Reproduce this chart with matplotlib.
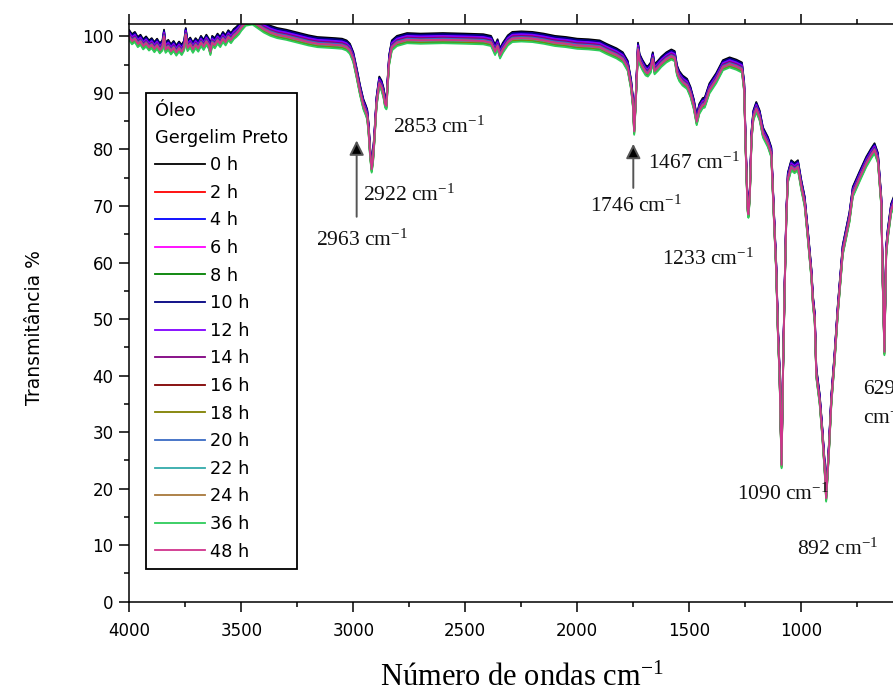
import matplotlib
matplotlib.use('Agg')
import matplotlib.pyplot as plt
from matplotlib.ticker import MultipleLocator
import numpy as np

# ---------------- data ----------------
wavenumber = [
    4000, 3988, 3975, 3962, 3950, 3938, 3925, 3912, 3900, 3888, 3876, 3864, 3852, 3845, 3838,
    3826, 3814, 3802, 3790, 3778, 3766, 3755, 3748, 3740, 3728, 3716, 3704, 3692, 3680, 3668,
    3656, 3645, 3638, 3630, 3618, 3606, 3594, 3582, 3570, 3558, 3546, 3534, 3522, 3510, 3500,
    3480, 3450, 3425, 3400, 3370, 3340, 3300, 3270, 3240, 3200, 3160, 3120, 3080, 3050, 3030,
    3015, 3000, 2985, 2970, 2955, 2945, 2938, 2932, 2925, 2918, 2912, 2906, 2896, 2884, 2874,
    2865, 2858, 2852, 2847, 2840, 2828, 2805, 2760, 2700, 2600, 2500, 2420, 2385, 2367, 2356,
    2345, 2332, 2310, 2290, 2250, 2200, 2150, 2100, 2050, 2000, 1950, 1900, 1870, 1825, 1797,
    1775, 1760, 1752, 1746, 1740, 1735, 1729, 1722, 1710, 1695, 1685, 1672, 1663, 1655, 1640,
    1625, 1602, 1580, 1565, 1555, 1545, 1530, 1510, 1495, 1480, 1467, 1455, 1440, 1431, 1410,
    1380, 1350, 1320, 1290, 1265, 1255, 1248, 1240, 1236, 1230, 1222, 1214, 1201, 1186, 1171,
    1149, 1134, 1123, 1112, 1104, 1097, 1093, 1088, 1082, 1074, 1067, 1060, 1045, 1030, 1015,
    1000, 985, 971, 955, 948, 940, 933, 918, 906, 896, 889, 877, 866, 852, 837,
    815, 785, 770, 740, 710, 688, 673, 658, 643, 636, 629, 621, 614, 599, 580,
    550, 500, 450, 400,
]
transmittance_base = [
    100.2, 99.5, 99.9, 99.0, 99.4, 98.6, 99.1, 98.4, 98.8, 98.1, 98.7, 97.9, 98.4, 100.3, 98.0,
    98.5, 97.7, 98.3, 97.5, 98.2, 97.6, 98.4, 100.6, 98.3, 98.9, 98.0, 98.8, 98.2, 99.2, 98.5,
    99.4, 98.7, 97.6, 99.2, 98.8, 99.6, 99.0, 99.9, 99.3, 100.2, 99.7, 100.4, 100.8, 101.3, 101.9,
    102.8, 103.0, 102.3, 101.6, 101.0, 100.6, 100.3, 100.0, 99.7, 99.3, 99.0, 98.9, 98.8, 98.7, 98.4,
    97.8, 96.3, 93.5, 90.5, 88.0, 87.0, 86.2, 83.8, 79.5, 76.8, 78.5, 82.0, 88.5, 92.0, 91.3,
    90.0, 88.3, 88.0, 91.5, 95.8, 98.4, 99.2, 99.7, 99.6, 99.7, 99.6, 99.5, 99.2, 97.6, 98.6,
    97.0, 98.0, 99.3, 99.9, 100.0, 99.9, 99.6, 99.2, 99.0, 98.7, 98.6, 98.4, 97.8, 97.0, 96.3,
    94.8, 91.5, 88.5, 83.5, 88.0, 92.5, 98.0, 96.0, 95.0, 94.0, 93.8, 94.5, 96.3, 94.2, 94.8,
    95.5, 96.3, 96.8, 96.5, 94.0, 93.0, 92.2, 91.6, 90.2, 88.0, 85.2, 87.2, 88.2, 88.3, 90.8,
    92.6, 94.9, 95.4, 95.0, 94.5, 91.0, 80.0, 70.0, 68.8, 72.0, 82.5, 86.0, 87.5, 86.0, 83.0,
    81.3, 79.5, 69.0, 59.0, 47.5, 40.5, 32.5, 24.5, 40.0, 56.0, 68.0, 75.0, 77.2, 76.7, 77.2,
    73.7, 70.8, 65.0, 58.0, 53.2, 50.2, 40.5, 35.8, 29.8, 24.0, 18.6, 26.8, 35.6, 42.8, 51.6,
    62.2, 68.0, 72.5, 75.2, 77.8, 79.3, 80.2, 78.5, 70.8, 56.0, 44.5, 62.0, 65.0, 69.5, 71.5,
    72.5, 71.5, 69.5, 67.5,
]
series_labels = ['0 h', '2 h', '4 h', '6 h', '8 h', '10 h', '12 h', '14 h', '16 h',
                 '18 h', '20 h', '22 h', '24 h', '36 h', '48 h']
series_shift = [0.9, 0.2, 0.6, 0.0, -0.7, 0.7, 0.4, 0.1, -0.2, -0.6, -0.1, -0.4, -0.3, -0.9, -0.3]
series_colors = ['#000000', '#FF0000', '#0000FF', '#FF00FF', '#008000', '#000080', '#8000FF',
                 '#800080', '#800000', '#808000', '#3A6BC4', '#33AAAA', '#A8783C', '#2ECC5A',
                 '#D0338C']
x_ticks = [4000, 3500, 3000, 2500, 2000, 1500, 1000, 500]
x_tick_labels = ['4000', '3500', '3000', '2500', '2000', '1500', '1000', '']
legend_title = 'Óleo\nGergelim Preto'
peak_texts = ['2853 cm$^{-1}$', '2922 cm$^{-1}$', '2963 cm$^{-1}$', '1467 cm$^{-1}$',
              '1746 cm$^{-1}$', '1233 cm$^{-1}$', '1090 cm$^{-1}$', '892 cm$^{-1}$',
              '629', 'cm$^{-1}$']
x_label = 'Número de ondas cm$^{-1}$'
y_label = 'Transmitância %'

# ---------------- layout / style ----------------
peak_text_pos = [(2823, 84.0), (2955, 72.0), (3166, 64.0), (1683, 77.5), (1943, 70.0),
                 (1623, 60.6), (1288, 19.0), (1020, 9.3), (723, 37.5), (723, 32.4)]
arrow_pos = [((2985, 68.1), (2985, 81.6)), ((1750, 73.2), (1750, 81.0))]

plt.rcParams['mathtext.fontset'] = 'custom'
plt.rcParams['mathtext.rm'] = 'Liberation Serif'
plt.rcParams['mathtext.it'] = 'Liberation Serif:italic'
plt.rcParams['mathtext.bf'] = 'Liberation Serif:bold'
plt.rcParams['font.family'] = ['DejaVu Sans']

W, H = 893, 693
fig = plt.figure(figsize=(W / 100, H / 100), dpi=100)
ax = fig.add_axes([129.3 / W, 1 - 601.7 / H, (935.7 - 129.3) / W, (601.7 - 24) / H])

wn = np.array(wavenumber, dtype=float)
base = np.array(transmittance_base, dtype=float)
for lab, sh, col in zip(series_labels, series_shift, series_colors):
    ax.plot(wn, base + sh, color=col, lw=1.3, label=lab)

ax.set_xlim(4000, 400)
ax.set_ylim(0, 102.2)
ax.set_xticks(x_ticks)
ax.set_xticklabels(x_tick_labels)
ax.xaxis.set_minor_locator(MultipleLocator(250))
ax.yaxis.set_major_locator(MultipleLocator(10))
ax.yaxis.set_minor_locator(MultipleLocator(5))
ax.tick_params(which='both', direction='out', top=True, right=False, labeltop=False,
               width=1.1, colors='black')
ax.tick_params(which='major', length=7.2)
ax.tick_params(which='minor', length=3.6)
ax.tick_params(axis='x', which='major', pad=7.5, labelsize=12)
ax.tick_params(axis='y', which='major', pad=4, labelsize=12)
for s in ax.spines.values():
    s.set_linewidth(1.1)

leg = ax.legend(loc='upper left', bbox_to_anchor=(146 / W, 1 - 93 / H),
                bbox_transform=fig.transFigure, title=legend_title, alignment='left',
                frameon=True, fancybox=False, edgecolor='black', framealpha=1,
                fontsize=12.8, title_fontsize=12.8, handlelength=2.8, handletextpad=0.28,
                labelspacing=0.54, borderpad=0.5, borderaxespad=0)
leg.get_frame().set_linewidth(1.3)
leg.get_title().set_linespacing(1.62)

for (txt, (x, y)) in zip(peak_texts, peak_text_pos):
    ax.text(x, y, txt, fontfamily='Liberation Serif', fontsize=15.5, ha='left', va='center',
            color='#111111')
for (tail, tip) in arrow_pos:
    ax.annotate('', xy=tip, xytext=tail,
                arrowprops=dict(arrowstyle='-|>', fc='black', ec='#555555', lw=1.4,
                                mutation_scale=22, shrinkA=0, shrinkB=0))

fig.text(521.5 / W, 1 - 686 / H, x_label, fontfamily='Liberation Serif', fontsize=22,
         ha='center', va='baseline')
fig.text(35 / W, 1 - 328 / H, y_label, fontsize=13.5, rotation=90, ha='center', va='center')

fig.savefig('out.png', dpi=100)
